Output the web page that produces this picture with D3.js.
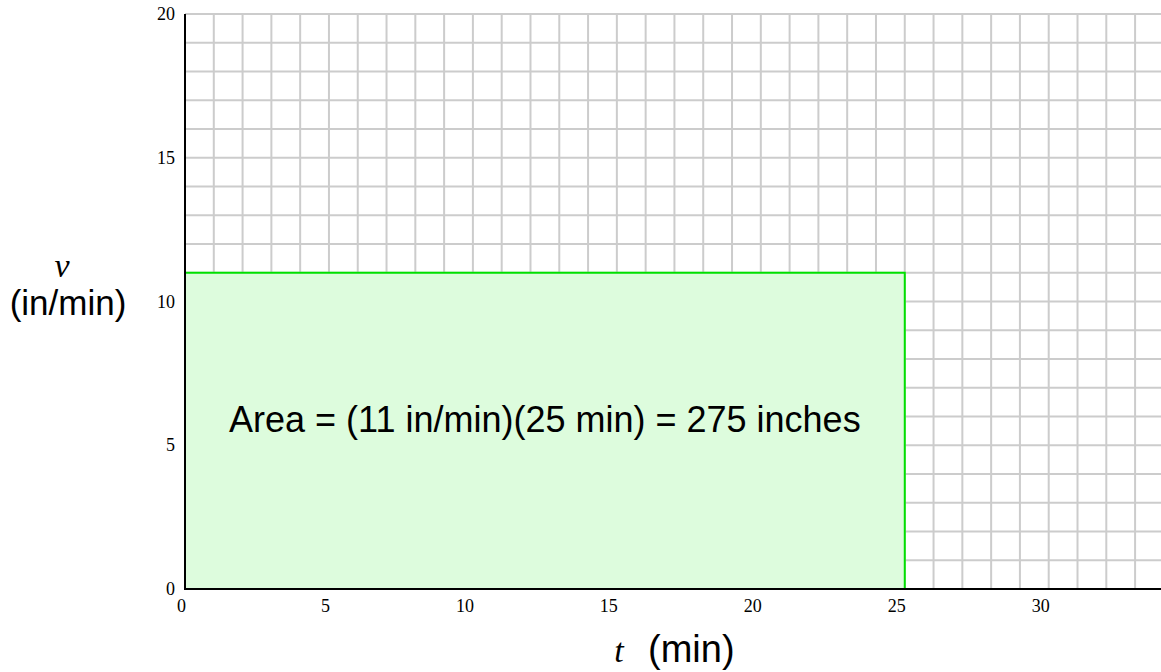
<!DOCTYPE html>
<html lang="en">
<head>
  <meta charset="utf-8">
  <script src="https://d3js.org/d3.v7.min.js"></script>
  <style>
    body { margin: 0; background: #fff; }
    svg { display: block; }
    .tick-label { font-family: "Liberation Serif", "DejaVu Serif", serif; font-size: 18px; fill: #000; }
    .sans { font-family: "Liberation Sans", Arial, sans-serif; font-size: 35px; fill: #000; }
    .ital { font-family: "Liberation Serif", serif; font-style: italic; font-size: 34px; fill: #000; }
  </style>
</head>
<body>
  <svg></svg>
  <script>
    // chart values
    var xTicks = [0, 5, 10, 15, 20, 25, 30];
    var yTicks = [0, 5, 10, 15, 20];
    var rateValue = 11;   // in/min
    var timeValue = 25;   // min
    var areaLabel = 'Area = (11 in/min)(25 min) = 275 inches';

    var width = 1161, height = 672;

    var x = d3.scaleLinear().domain([0, 33.9]).range([185, 1161]);
    var y = d3.scaleLinear().domain([0, 20]).range([589, 14]);

    var svg = d3.select('svg')
      .attr('width', width)
      .attr('height', height);

    // grid every 1 unit
    var grid = svg.append('g').attr('stroke', '#cccccc').attr('stroke-width', 2);
    grid.selectAll('line.v')
      .data(d3.range(1, 34))
      .enter().append('line')
      .attr('x1', function (d) { return x(d); })
      .attr('x2', function (d) { return x(d); })
      .attr('y1', y(0))
      .attr('y2', y(20));
    grid.selectAll('line.h')
      .data(d3.range(1, 21))
      .enter().append('line')
      .attr('x1', x(0))
      .attr('x2', width)
      .attr('y1', function (d) { return y(d); })
      .attr('y2', function (d) { return y(d); });

    // the area rectangle
    svg.append('rect')
      .attr('x', x(0))
      .attr('y', y(rateValue))
      .attr('width', x(timeValue) - x(0))
      .attr('height', y(0) - y(rateValue))
      .attr('fill', '#ddfcdd')
      .attr('stroke', '#00e000')
      .attr('stroke-width', 2);

    // axes
    svg.append('line')
      .attr('x1', x(0)).attr('x2', width)
      .attr('y1', y(0)).attr('y2', y(0))
      .attr('stroke', '#000').attr('stroke-width', 2);
    svg.append('line')
      .attr('x1', x(0)).attr('x2', x(0))
      .attr('y1', y(0) + 1).attr('y2', y(20))
      .attr('stroke', '#000').attr('stroke-width', 2);

    // tick labels
    svg.selectAll('text.xt')
      .data(xTicks)
      .enter().append('text')
      .attr('class', 'tick-label')
      .attr('x', function (d) { return x(d) + 1; })
      .attr('y', 612)
      .attr('text-anchor', 'end')
      .text(function (d) { return d; });
    svg.selectAll('text.yt')
      .data(yTicks)
      .enter().append('text')
      .attr('class', 'tick-label')
      .attr('x', 175)
      .attr('y', function (d) { return y(d) + 6; })
      .attr('text-anchor', 'end')
      .text(function (d) { return d; });

    // axis titles
    svg.append('text').attr('class', 'ital')
      .attr('x', 62).attr('y', 277).attr('text-anchor', 'middle').text('v');
    svg.append('text').attr('class', 'sans')
      .attr('x', 68).attr('y', 315).attr('text-anchor', 'middle').text('(in/min)');
    svg.append('text').attr('class', 'ital')
      .attr('x', 619).attr('y', 662).attr('text-anchor', 'middle').text('t');
    svg.append('text').attr('class', 'sans')
      .style('font-size', '38px')
      .attr('x', 648).attr('y', 662).text('(min)');

    // area annotation
    svg.append('text').attr('class', 'sans')
      .style('font-size', '36px')
      .attr('x', 229).attr('y', 432).text(areaLabel);
  </script>
</body>
</html>
